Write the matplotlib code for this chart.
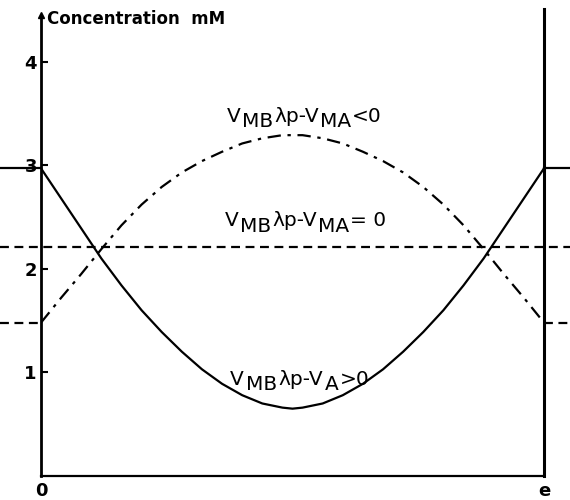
import matplotlib
matplotlib.use("Agg")
import matplotlib.pyplot as plt

# position along the membrane, 0 .. e (scaled to 0 .. 1)
pos = [0.0, 0.04, 0.08, 0.12, 0.16, 0.20, 0.24, 0.28, 0.32, 0.36, 0.40, 0.44, 0.48, 0.50,
       0.52, 0.56, 0.60, 0.64, 0.68, 0.72, 0.76, 0.80, 0.84, 0.88, 0.92, 0.96, 1.0]

# concentration profiles (mM)
conc_pos = [2.97, 2.68, 2.39, 2.10, 1.84, 1.60, 1.39, 1.20, 1.03, 0.89, 0.78, 0.70, 0.66, 0.65,
            0.66, 0.70, 0.78, 0.89, 1.03, 1.20, 1.39, 1.60, 1.84, 2.10, 2.39, 2.68, 2.97]
conc_neg = [1.48, 1.72, 1.95, 2.19, 2.42, 2.62, 2.79, 2.93, 3.04, 3.13, 3.21, 3.26, 3.29, 3.29,
            3.29, 3.26, 3.21, 3.13, 3.04, 2.93, 2.79, 2.62, 2.42, 2.19, 1.95, 1.72, 1.48]
conc_zero = 2.21

# bathing solution levels on both sides
bath_high = 2.97
bath_low = 1.48

yticks = [1, 2, 3, 4]
xtick_labels = ["0", "e"]


def chained_label(ax, x, y, pieces, size=14.5, drop=4, gap=0.8):
    # pieces: (text, is_subscript); subscripts keep full size, just lowered
    first_txt, _ = pieces[0]
    prev = ax.text(x, y, first_txt, fontsize=size, ha="left", va="baseline")
    prev_sub = False
    for txt, sub in pieces[1:]:
        dy = 0
        if sub and not prev_sub:
            dy = -drop
        elif prev_sub and not sub:
            dy = drop
        prev = ax.annotate(txt, xy=(1, 0), xycoords=prev, xytext=(gap, dy),
                           textcoords="offset points", fontsize=size,
                           ha="left", va="bottom")
        prev_sub = sub


fig = plt.figure(figsize=(5.7, 5.0), dpi=100)
ax = fig.add_axes([0.0719, 0.048, 0.8825, 0.922])
ax.set_xlim(0, 1)
ax.set_ylim(0, 4.45)

lw = 1.6
x_left, x_right = -0.0815, 1.052

ax.plot(pos, conc_pos, color="black", lw=lw)
ax.plot(pos, conc_neg, color="black", lw=lw, linestyle=(0, (6, 3, 1.5, 3)))
ax.plot([x_left, x_right], [conc_zero, conc_zero], color="black", lw=lw,
        linestyle=(0, (4, 2.5)), clip_on=False)

# outside levels
for xs in ([x_left, 0], [1, x_right]):
    ax.plot(xs, [bath_high, bath_high], color="black", lw=lw, clip_on=False)
    ax.plot(xs, [bath_low, bath_low], color="black", lw=lw,
            linestyle=(0, (4, 2.5)), clip_on=False)

# axes frame: left axis with arrow, right membrane wall, bottom
ax.spines["top"].set_visible(False)
ax.spines["right"].set_visible(False)
ax.spines["left"].set_linewidth(2)
ax.spines["bottom"].set_linewidth(1.6)
ax.plot([1, 1], [0, 4.51], color="black", lw=2.2, clip_on=False)
ax.plot([0], [4.45], marker="^", color="black", markersize=4, clip_on=False)

ax.set_yticks(yticks)
ax.set_yticklabels([str(v) for v in yticks], fontsize=13, fontweight="bold")
ax.tick_params(axis="y", direction="in", length=5, width=1.5, pad=3)
ax.set_xticks([0, 1])
ax.set_xticklabels(xtick_labels, fontsize=13, fontweight="bold")
ax.tick_params(axis="x", length=0, pad=4)

ax.text(0.012, 4.36, "Concentration  mM", fontsize=12, fontweight="bold",
        ha="left", va="baseline")

chained_label(ax, 0.37, 3.42, [("V", False), ("MB", True), ("λp-V", False),
                               ("MA", True), ("<0", False)])
chained_label(ax, 0.366, 2.41, [("V", False), ("MB", True), ("λp-V", False),
                                ("MA", True), ("= 0", False)])
chained_label(ax, 0.376, 0.88, [("V", False), ("MB", True), ("λp-V", False),
                                ("A", True), (">0", False)], gap=1.2)

fig.savefig("out.png", dpi=100)
